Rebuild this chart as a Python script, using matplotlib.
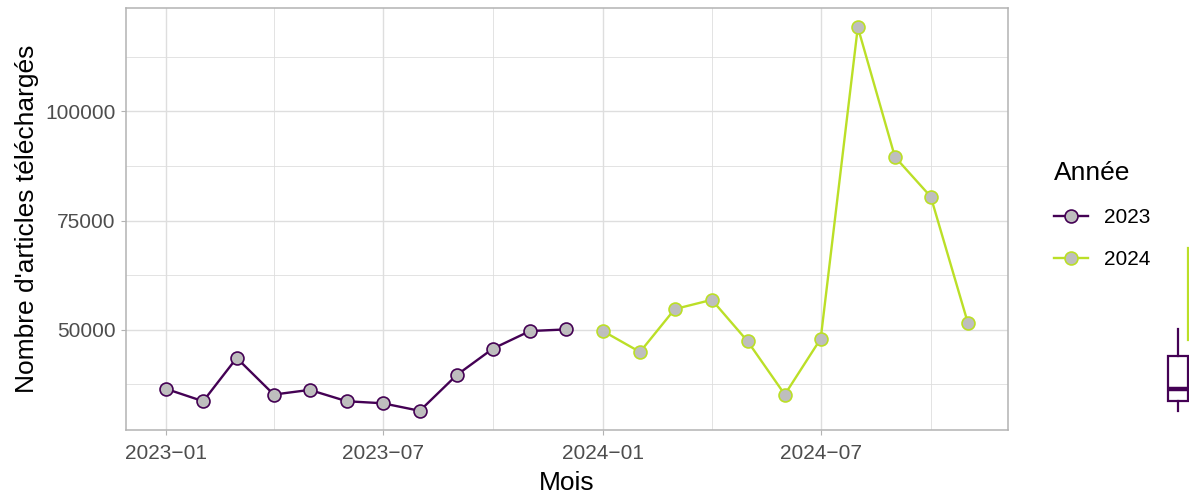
import numpy as np
import pandas as pd
import matplotlib
matplotlib.use("Agg")
import matplotlib.pyplot as plt
import matplotlib.dates as mdates
from matplotlib.lines import Line2D

plt.rcParams['font.family'] = ['Liberation Sans', 'DejaVu Sans']

# monthly downloads
months_2023 = pd.date_range("2023-01-01", periods=12, freq="MS")
vals_2023 = [36460, 33630, 43540, 35160, 36230, 33630, 33170, 31440, 39660, 45660, 49700, 50070]
months_2024 = pd.date_range("2024-01-01", periods=11, freq="MS")
vals_2024 = [49700, 44900, 54720, 56850, 47330, 35160, 47950, 119250, 89570, 80430, 51530]

years = ["2023", "2024"]
colors = {"2023": "#440154", "2024": "#BBDF27"}

W, H = 1189, 494
fig = plt.figure(figsize=(W / 100, H / 100), dpi=100)

def px_rect(x0, y0, x1, y1):
    return [x0 / W, 1 - y1 / H, (x1 - x0) / W, (y1 - y0) / H]

ax = fig.add_axes(px_rect(126, 8, 1008, 430))

series = {"2023": (months_2023, vals_2023), "2024": (months_2024, vals_2024)}
for yr in years:
    m, v = series[yr]
    ax.plot(m, v, color=colors[yr], lw=1.7, marker="o", ms=9.3,
            mfc="#BEBEBE", mec=colors[yr], mew=1.2, zorder=3)

# limits with 5% expansion like ggplot
all_dates = list(months_2023) + list(months_2024)
d0 = mdates.date2num(min(all_dates))
d1 = mdates.date2num(max(all_dates))
ax.set_xlim(d0 - 0.05 * (d1 - d0), d1 + 0.05 * (d1 - d0))
all_vals = vals_2023 + vals_2024
lo, hi = min(all_vals), max(all_vals)
ylim = (lo - 0.05 * (hi - lo), hi + 0.05 * (hi - lo))
ax.set_ylim(*ylim)

ax.xaxis.set_major_locator(mdates.MonthLocator(bymonth=[1, 7]))
ax.xaxis.set_minor_locator(mdates.MonthLocator(bymonth=[4, 10]))
ax.xaxis.set_major_formatter(mdates.DateFormatter("%Y\u2212%m"))
ax.set_yticks([50000, 75000, 100000])
ax.set_yticks([37500, 62500, 87500, 112500], minor=True)

ax.grid(which="major", color="#DEDEDE", lw=1.0)
ax.grid(which="minor", color="#DEDEDE", lw=0.6)
ax.set_axisbelow(True)
for s in ax.spines.values():
    s.set_color("#B3B3B3")
    s.set_linewidth(1.1)
ax.tick_params(which="major", color="#B3B3B3", length=3.3, width=0.8,
               labelsize=15, labelcolor="#4D4D4D", pad=4)
ax.tick_params(axis="x", which="major", pad=6.5)
ax.tick_params(which="minor", length=0)

ax.set_xlabel("Mois", fontsize=19, labelpad=6)
ax.set_ylabel("Nombre d'articles téléchargés", fontsize=19, labelpad=5)

# legend
handles = [Line2D([], [], color=colors[yr], lw=1.7, marker="o", ms=9.3,
                  mfc="#BEBEBE", mec=colors[yr], mew=1.2) for yr in years]
leg = fig.legend(handles, years, title="Année", loc="upper left",
                 bbox_to_anchor=(1046 / W, 1 - 153 / H), frameon=False,
                 fontsize=15, title_fontsize=19, handlelength=1.6,
                 labelspacing=1.1, handletextpad=0.8, borderaxespad=0)
leg._legend_box.align = "left"

# marginal boxplots on the right, partly cut by the figure edge
bax = fig.add_axes(px_rect(1157.5, 8, 1217.5, 430))
bp = bax.boxplot([vals_2023, vals_2024], positions=[0, 1], widths=1,
                 showcaps=False, patch_artist=True, whis=1.5,
                 flierprops=dict(marker="o", ms=4))
for i, yr in enumerate(years):
    c = colors[yr]
    bp["boxes"][i].set(facecolor="white", edgecolor=c, linewidth=1.6)
    bp["medians"][i].set(color=c, linewidth=3.2)
    for w in bp["whiskers"][2 * i:2 * i + 2]:
        w.set(color=c, linewidth=1.6)
    bp["fliers"][i].set(markeredgecolor=c, markerfacecolor=c)
bax.set_xlim(-1, 2)
bax.set_ylim(*ylim)
bax.axis("off")

fig.savefig("out.png", dpi=100)
